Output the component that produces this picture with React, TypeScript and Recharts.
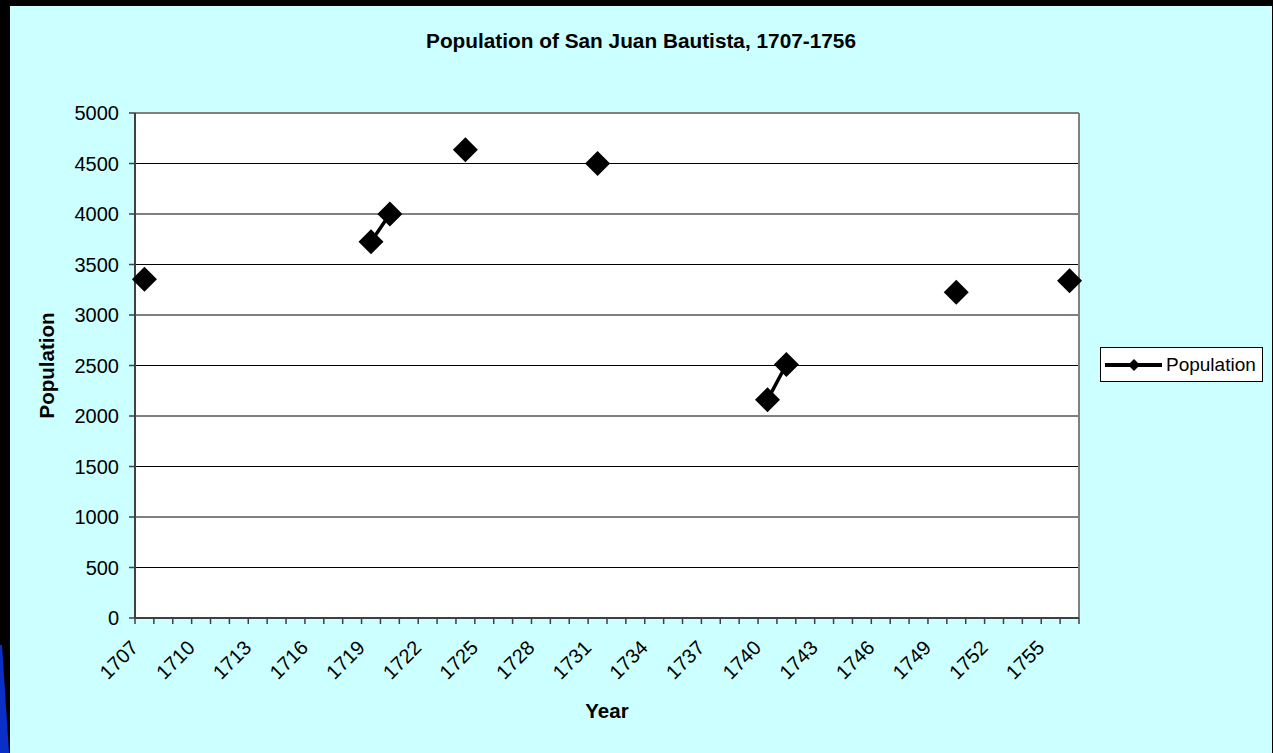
import React from 'react';
import { LineChart, Line, XAxis, YAxis, CartesianGrid, ReferenceLine, Legend } from 'recharts';

const firstYear = 1707;
const lastYear = 1756;
const surveyYears = [1707, 1719, 1720, 1724, 1731, 1740, 1741, 1750, 1756];
const surveyPopulation = [3355, 3725, 4000, 4635, 4500, 2160, 2510, 3225, 3340];
const yTicks = [0, 500, 1000, 1500, 2000, 2500, 3000, 3500, 4000, 4500, 5000];
const xLabelYears = [1707, 1710, 1713, 1716, 1719, 1722, 1725, 1728, 1731, 1734, 1737, 1740, 1743, 1746, 1749, 1752, 1755];

const years = Array.from({ length: lastYear - firstYear + 1 }, (_, i) => firstYear + i);
const boundaries = Array.from({ length: years.length + 1 }, (_, i) => firstYear - 0.5 + i);
const data = years.map((year) => {
  const idx = surveyYears.indexOf(year);
  return { year, population: idx >= 0 ? surveyPopulation[idx] : null };
});

const FONT = "Arial, 'Liberation Sans', sans-serif";

const Diamond = (props: any) => {
  const { cx, cy, value } = props;
  if (cx == null || cy == null || value == null) return null;
  const r = 12.5;
  return <polygon points={`${cx},${cy - r} ${cx + r},${cy} ${cx},${cy + r} ${cx - r},${cy}`} fill="#000" />;
};

// Tick marks sit on the boundaries between years; labels are centred on the year they name.
const BoundaryTick = (props: any) => {
  const { x, y, payload, width } = props;
  const year = payload.value + 0.5;
  if (!xLabelYears.includes(year)) return <g />;
  const half = width / years.length / 2;
  return (
    <text
      transform={`translate(${x + half - 5},${y + 25}) rotate(-45)`}
      textAnchor="end"
      fontSize={20}
      fontFamily={FONT}
      fill="#000"
    >
      {year}
    </text>
  );
};

const LegendBox = () => (
  <div style={{ display: 'flex', justifyContent: 'flex-end' }}>
    <div
      style={{
        border: '1px solid #000',
        background: '#fff',
        width: 161,
        height: 33,
        display: 'flex',
        alignItems: 'center',
        boxSizing: 'content-box',
      }}
    >
      <svg width={62} height={20} style={{ display: 'block' }}>
        <line x1={4} y1={10} x2={61} y2={10} stroke="#000" strokeWidth={4} />
        <polygon points="33,4 39,10 33,16 27,10" fill="#000" />
      </svg>
      <span style={{ fontFamily: FONT, fontSize: 19, color: '#000', marginLeft: 3 }}>Population</span>
    </div>
  </div>
);

export default function App() {
  return (
    <div style={{ position: 'fixed', inset: 0, background: '#000', overflow: 'hidden' }}>
      <svg width={10} height={753} style={{ position: 'absolute', left: 0, top: 0 }}>
        <polygon points="0,645 2,645 9,753 0,753" fill="#0a2fc8" />
      </svg>
      <div
        style={{
          position: 'absolute',
          left: 10,
          top: 6,
          width: 1262,
          height: 747,
          background: '#ccffff',
        }}
      >
        <div
          style={{
            position: 'absolute',
            left: 0,
            top: 23,
            width: 1262,
            textAlign: 'center',
            fontFamily: FONT,
            fontWeight: 'bold',
            fontSize: 20.8,
            color: '#000',
          }}
        >
          Population of San Juan Bautista, 1707-1756
        </div>
        <LineChart
          width={1262}
          height={747}
          data={data}
          margin={{ top: 107, right: 9, bottom: 35, left: 0 }}
        >
          <CartesianGrid vertical={false} stroke="#000" strokeWidth={1} fill="#fff" />
          <XAxis
            type="number"
            dataKey="year"
            domain={[firstYear - 0.5, lastYear + 0.5]}
            ticks={boundaries}
            interval={0}
            height={100}
            tickSize={6}
            tickMargin={0}
            axisLine={{ stroke: '#404040', strokeWidth: 2 }}
            tickLine={{ stroke: '#404040', strokeWidth: 1.5 }}
            tick={<BoundaryTick />}
            label={{
              value: 'Year',
              position: 'insideBottom',
              offset: 0,
              style: { fontFamily: FONT, fontWeight: 'bold', fontSize: 20.5, fill: '#000' },
            }}
          />
          <YAxis
            type="number"
            domain={[0, 5000]}
            ticks={yTicks}
            interval={0}
            width={125}
            tickSize={6}
            tickMargin={10}
            axisLine={{ stroke: '#404040', strokeWidth: 2 }}
            tickLine={{ stroke: '#404040', strokeWidth: 1.5 }}
            tick={{ fill: '#000', fontSize: 20, fontFamily: FONT }}
            label={{
              value: 'Population',
              angle: -90,
              position: 'insideLeft',
              offset: 37,
              style: { textAnchor: 'middle', fontFamily: FONT, fontWeight: 'bold', fontSize: 20.5, fill: '#000' },
            }}
          />
          <ReferenceLine y={5000} stroke="#808080" strokeWidth={2} />
          <ReferenceLine x={lastYear + 0.5} stroke="#808080" strokeWidth={2} />
          <Legend
            layout="vertical"
            align="right"
            verticalAlign="middle"
            width={184}
            wrapperStyle={{ top: 341 }}
            content={<LegendBox />}
          />
          <Line
            type="linear"
            dataKey="population"
            stroke="#000"
            strokeWidth={3.5}
            dot={<Diamond />}
            activeDot={false}
            connectNulls={false}
            isAnimationActive={false}
          />
        </LineChart>
      </div>
    </div>
  );
}
